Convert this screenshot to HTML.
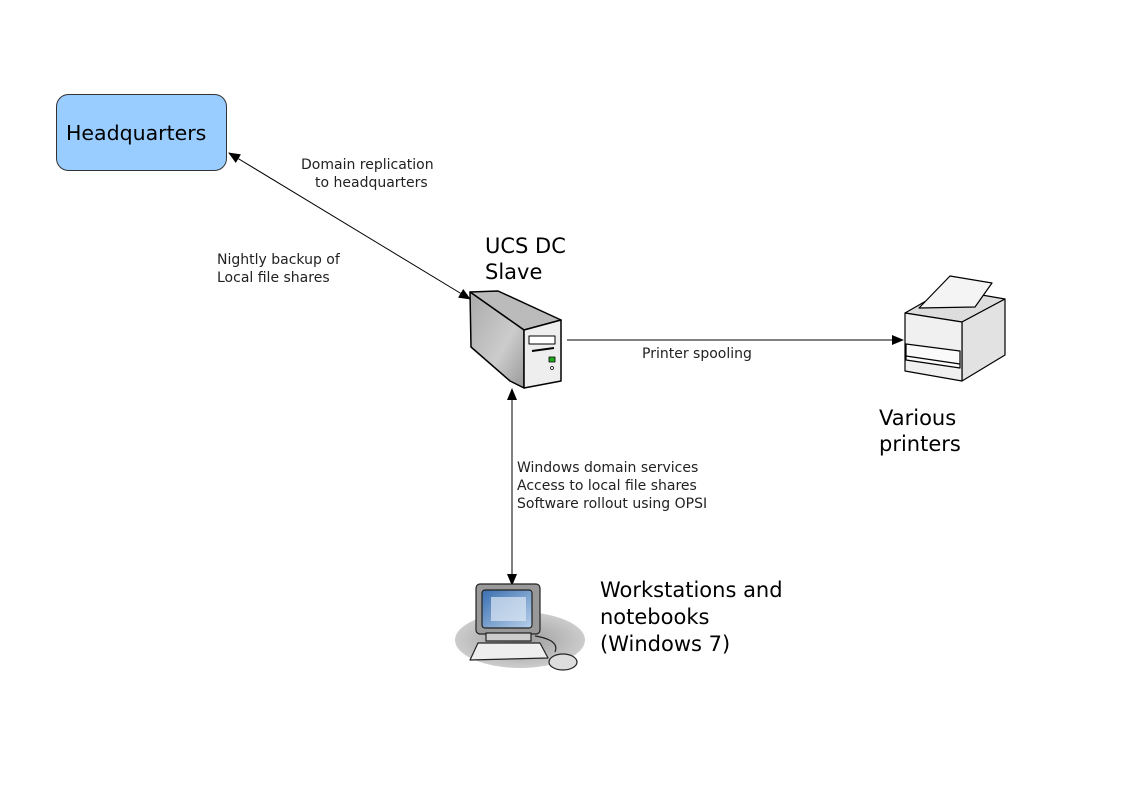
<!DOCTYPE html>
<html><head><style>body{margin:0;background:#fff}svg{display:block}</style></head><body>
<svg width="1123" height="794" viewBox="0 0 1123 794" xmlns="http://www.w3.org/2000/svg" font-family="DejaVu Sans, sans-serif">
<defs>
<marker id="a" markerWidth="12" markerHeight="10" refX="11" refY="5" orient="auto-start-reverse" markerUnits="userSpaceOnUse"><path d="M0,0 L12,5 L0,10 Z" fill="#000"/></marker>
<linearGradient id="g1" x1="0" y1="0" x2="1" y2="1"><stop offset="0" stop-color="#aaa"/><stop offset="0.6" stop-color="#ccc"/><stop offset="1" stop-color="#999"/></linearGradient>
<linearGradient id="scr" x1="0" y1="0" x2="1" y2="1"><stop offset="0" stop-color="#3a6fb0"/><stop offset="1" stop-color="#b8d0ea"/></linearGradient>
<radialGradient id="sh"><stop offset="0" stop-color="#999"/><stop offset="1" stop-color="#ccc"/></radialGradient>
</defs>
<rect x="56.5" y="94.5" width="170" height="76" rx="12" fill="#99ccff" stroke="#333" stroke-width="1"/>
<text x="66" y="140" font-size="20.5">Headquarters</text>

<line x1="229" y1="153" x2="470" y2="299" stroke="#000" stroke-width="1" marker-start="url(#a)" marker-end="url(#a)"/>
<line x1="567" y1="340" x2="903" y2="340" stroke="#000" stroke-width="1" marker-end="url(#a)"/>
<line x1="512" y1="389" x2="512" y2="585" stroke="#000" stroke-width="1" marker-start="url(#a)" marker-end="url(#a)"/>

<g font-size="14" fill="#222">
<text x="301" y="169">Domain replication</text>
<text x="315" y="187">to headquarters</text>
<text x="217" y="264">Nightly backup of</text>
<text x="217" y="282">Local file shares</text>
<text x="642" y="358">Printer spooling</text>
<text x="517" y="472">Windows domain services</text>
<text x="517" y="490">Access to local file shares</text>
<text x="517" y="508">Software rollout using OPSI</text>
</g>
<g font-size="21" fill="#000">
<text x="485" y="253">UCS DC</text>
<text x="485" y="279">Slave</text>
<text x="879" y="425">Various</text>
<text x="879" y="451">printers</text>
<text x="600" y="597">Workstations and</text>
<text x="600" y="624">notebooks</text>
<text x="600" y="651">(Windows 7)</text>
</g>

<g stroke="#000" stroke-width="1.5" stroke-linejoin="round">
<path d="M470,292 L498,291 L561,320 L524,330 Z" fill="#bbb"/>
<path d="M470,292 L524,330 L524,388 L510,381 L471,347 Z" fill="url(#g1)"/>
<path d="M524,330 L561,320 L561,381 L524,388 Z" fill="#eee"/>
<rect x="529" y="336" width="26" height="8" fill="#fff" stroke-width="1"/>
<line x1="532" y1="351" x2="554" y2="348" stroke-width="2"/>
<rect x="549" y="357" width="6" height="5" fill="#2a2" stroke-width="0.8"/>
<circle cx="552" cy="368" r="1.5" fill="#fff" stroke-width="0.8"/>
</g>

<g stroke="#000" stroke-width="1.2" stroke-linejoin="round">
<path d="M905,313 L947,289 L1005,299 L962,322 Z" fill="#ddd"/>
<path d="M919,308 L950,276 L992,283 L975,307 Z" fill="#f4f4f4"/>
<path d="M962,322 L1005,299 L1005,355 L962,381 Z" fill="#e2e2e2"/>
<path d="M905,313 L962,322 L962,381 L905,371 Z" fill="#f0f0f0"/>
<path d="M906,344 L960,351 L960,368 L906,360 Z" fill="#fafafa"/>
<line x1="906" y1="356" x2="960" y2="364"/>
</g>

<ellipse cx="520" cy="640" rx="65" ry="28" fill="url(#sh)"/>
<g stroke="#222" stroke-width="1.2" stroke-linejoin="round">
<rect x="476" y="584" width="64" height="50" rx="4" fill="#999"/>
<rect x="482" y="590" width="50" height="38" rx="3" fill="url(#scr)"/>
<rect x="491" y="597" width="35" height="24" fill="#dbe7f4" stroke="none" opacity="0.7"/>
<rect x="486" y="633" width="45" height="8" fill="#ccc"/>
<path d="M478,643 L540,643 L548,658 L470,660 Z" fill="#eee"/>
<path d="M535,636 Q560,640 555,652" fill="none"/>
<ellipse cx="563" cy="662" rx="14" ry="8" fill="#ddd"/>
</g>
</svg>
</body></html>
